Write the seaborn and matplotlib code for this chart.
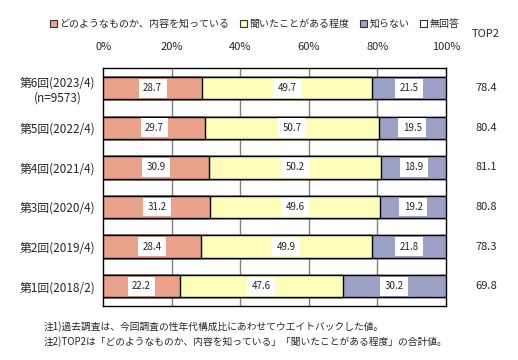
import matplotlib
matplotlib.use("Agg")
import matplotlib.pyplot as plt
import matplotlib.transforms as mtransforms
from matplotlib.patches import Patch
import seaborn as sns
import pandas as pd
import numpy as np

# Data
categories = ["第6回(2023/4)\n(n=9573)", "第5回(2022/4)", "第4回(2021/4)",
              "第3回(2020/4)", "第2回(2019/4)", "第1回(2018/2)"]
series_names = ["どのようなものか、内容を知っている", "聞いたことがある程度", "知らない", "無回答"]
know_content = [28.7, 29.7, 30.9, 31.2, 28.4, 22.2]
heard_of = [49.7, 50.7, 50.2, 49.6, 49.9, 47.6]
not_know = [21.5, 19.5, 18.9, 19.2, 21.8, 30.2]
no_answer = [0.0, 0.0, 0.0, 0.0, 0.0, 0.0]
top2 = [78.4, 80.4, 81.1, 80.8, 78.3, 69.8]
xticks = [0, 20, 40, 60, 80, 100]

colors = ["#EBA28B", "#FFFDBA", "#9BA2C6", "#FFFFFF"]

sns.set_style("white")
plt.rcParams['font.family'] = ['Noto Sans CJK JP', 'DejaVu Sans']

fig = plt.figure(figsize=(5.18, 3.60), dpi=100)
ax = fig.add_axes([0.1998, 0.150, 0.6612, 0.660])

values = [know_content, heard_of, not_know, no_answer]
cum = np.cumsum(np.array(values), axis=0)

# Draw cumulative layers from the largest to the smallest
for i in range(len(values) - 1, -1, -1):
    df = pd.DataFrame({"cat": categories, "val": cum[i]})
    sns.barplot(data=df, y="cat", x="val", orient="h", color=colors[i],
                saturation=1, width=0.57, edgecolor="black", linewidth=1.0,
                ax=ax, zorder=3)

# Value labels in white boxes
lefts = np.vstack([np.zeros(len(categories)), cum[:-1]])
for i in range(3):
    for j, v in enumerate(values[i]):
        ax.text(lefts[i][j] + v / 2, j, f"{v:.1f}", ha="center", va="center",
                fontsize=7, zorder=5,
                bbox=dict(boxstyle="square,pad=0.45", fc="white", ec="none"))

# TOP2 column
trans = mtransforms.blended_transform_factory(ax.transAxes, ax.transData)
for j, v in enumerate(top2):
    ax.text(1.117, j, f"{v:.1f}", transform=trans, ha="center", va="center", fontsize=8)
fig.text(486 / 518, 1 - 34 / 360, "TOP2", ha="center", va="center", fontsize=8)

# Axes styling
ax.set_xlim(0, 100)
ax.set_ylim(len(categories) - 0.5, -0.5)
ax.set_xticks(xticks)
ax.set_xticklabels([f"{t}%" for t in xticks], fontsize=8)
ax.xaxis.tick_top()
ax.tick_params(axis="x", length=0, pad=12)
ax.tick_params(axis="y", length=0, pad=6)
ax.set_xlabel("")
ax.set_ylabel("")
for lbl in ax.get_yticklabels():
    lbl.set_fontsize(8.5)
    lbl.set_multialignment("center")
for x in [20, 40, 60, 80]:
    ax.axvline(x, color="#808080", linewidth=1.0, zorder=1)
for s in ax.spines.values():
    s.set_color("black")
    s.set_linewidth(1.0)

# Legend
handles = [Patch(facecolor=c, edgecolor="#333333", linewidth=0.8) for c in colors]
fig.legend(handles, series_names, loc="center", bbox_to_anchor=(0.492, 1 - 24 / 360),
           ncol=4, frameon=False, fontsize=7.2, handlelength=0.7, handleheight=0.7,
           handletextpad=0.2, columnspacing=1.1)

# Notes
fig.text(44 / 518, 1 - 327 / 360, "注1)過去調査は、今回調査の性年代構成比にあわせてウエイトバックした値。",
         ha="left", va="center", fontsize=7.0)
fig.text(44 / 518, 1 - 342 / 360, "注2)TOP2は「どのようなものか、内容を知っている」「聞いたことがある程度」の合計値。",
         ha="left", va="center", fontsize=7.0)

plt.savefig("out.png", dpi=100)
